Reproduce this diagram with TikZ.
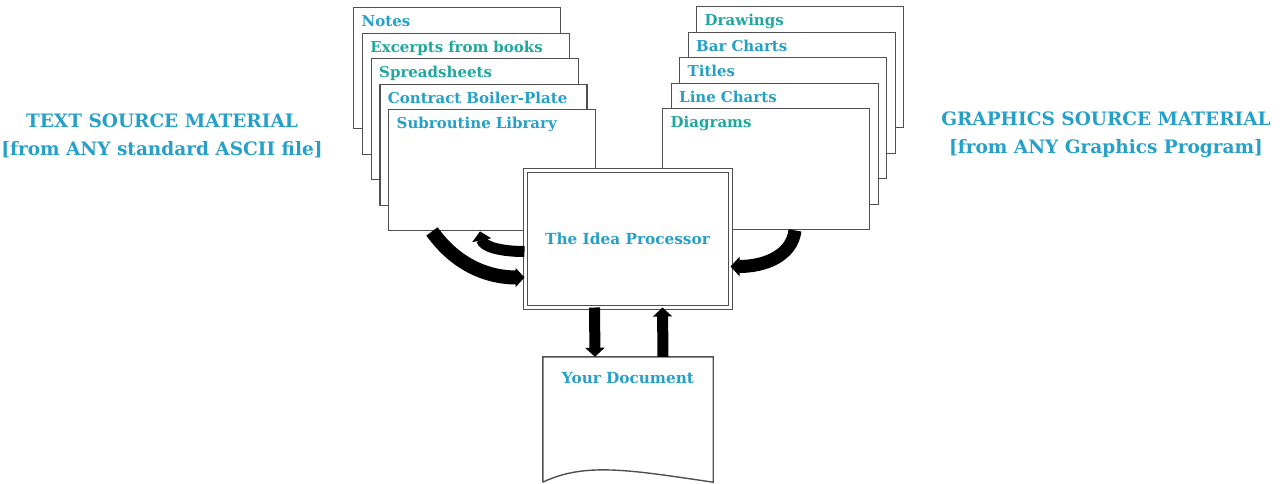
\documentclass[tikz,border=0pt]{standalone}
\usepackage{fontspec}
\setmainfont{DejaVu Serif}
\usepackage{tikz}
\usetikzlibrary{arrows.meta, positioning, calc}

\definecolor{inkblue}{RGB}{38,160,200}
\definecolor{inkteal}{RGB}{32,168,160}
\definecolor{edge}{RGB}{80,80,80}

\begin{document}
\begin{tikzpicture}[x=1pt, y=-1pt,
  card/.style={draw=edge, line width=1.4pt, fill=white, anchor=north west,
               text width=191pt, inner xsep=8pt, inner ysep=0pt,
               text height=19pt, text depth=102pt, align=left,
               font=\bfseries\fontsize{15}{17}\selectfont, text=inkblue},
  proc/.style={draw=edge, line width=1pt, double=white, double distance=3pt,
               fill=white, minimum width=205pt, minimum height=137pt,
               font=\bfseries\fontsize{15.3}{17}\selectfont, text=inkblue},
  paper/.style={minimum width=170pt, text width=154pt, inner xsep=8pt,
                inner ysep=0pt, text height=26pt, text depth=99pt,
                align=center, font=\bfseries\fontsize{15.3}{17}\selectfont,
                text=inkblue},
  side/.style={align=center, text=inkblue,
               font=\bfseries\fontsize{18.5}{28}\selectfont},
  arr/.style={line width=11pt, -{Triangle[length=9pt, width=19pt]}}
]
\useasboundingbox (0,0) rectangle (1283,483);

% text sources
\node[card] (notes) at (353,7) {Notes};
\node[card, text=inkteal] (books) at ($(notes.north west)+(8.75,25.5)$) {Excerpts from books};
\node[card, text=inkteal] (sheets) at ($(books.north west)+(8.75,25.5)$) {Spreadsheets};
\node[card] (plate) at ($(sheets.north west)+(8.75,25.5)$) {Contract Boiler-Plate};
\node[card] (sub) at ($(plate.north west)+(8.75,25.5)$) {Subroutine Library};

% graphics sources
\node[card, text=inkteal] (draws) at (696,6) {Drawings};
\node[card] (bars) at ($(draws.north west)+(-8.5,25.5)$) {Bar Charts};
\node[card] (titles) at ($(bars.north west)+(-8.5,25.5)$) {Titles};
\node[card] (lines) at ($(titles.north west)+(-8.5,25.5)$) {Line Charts};
\node[card, text=inkteal] (diag) at ($(lines.north west)+(-8.5,25.5)$) {Diagrams};

% side captions
\node[side] (textsrc) at (162,136) {TEXT SOURCE MATERIAL\\{[}from ANY standard ASCII file{]}};
\node[side] (gfxsrc) at (1106,135) {GRAPHICS SOURCE MATERIAL\\{[}from ANY Graphics Program{]}};

% processor
\node[proc] (idea) at (627.5,238.5) {The Idea Processor};

% output document
\node[paper] (doc) at (628,419.5) {Your Document};
\draw[edge, line width=1.4pt] (doc.south west) -- (doc.north west)
    -- (doc.north east) -- (doc.south east)
    .. controls (630,470) and (585,462) .. (doc.south west);

% arrows
\draw[arr, line width=14pt] ([xshift=44pt]sub.south west) .. controls +(25,35) and +(-35,0)
    .. ([yshift=-39pt]idea.west);
\draw[arr] ([yshift=-13pt]idea.west) .. controls +(-25,0) and +(3,15)
    .. ([xshift=92pt]sub.south west);
\draw[arr, line width=13pt] ([xshift=133pt]diag.south west) .. controls +(-3,25) and +(35,0)
    .. ([yshift=-28pt]idea.east);
\draw[arr] ([xshift=-33pt]idea.south) -- ([xshift=-33pt]doc.north);
\draw[arr] ([xshift=35pt]doc.north) -- ([xshift=35pt]idea.south);
\end{tikzpicture}
\end{document}
